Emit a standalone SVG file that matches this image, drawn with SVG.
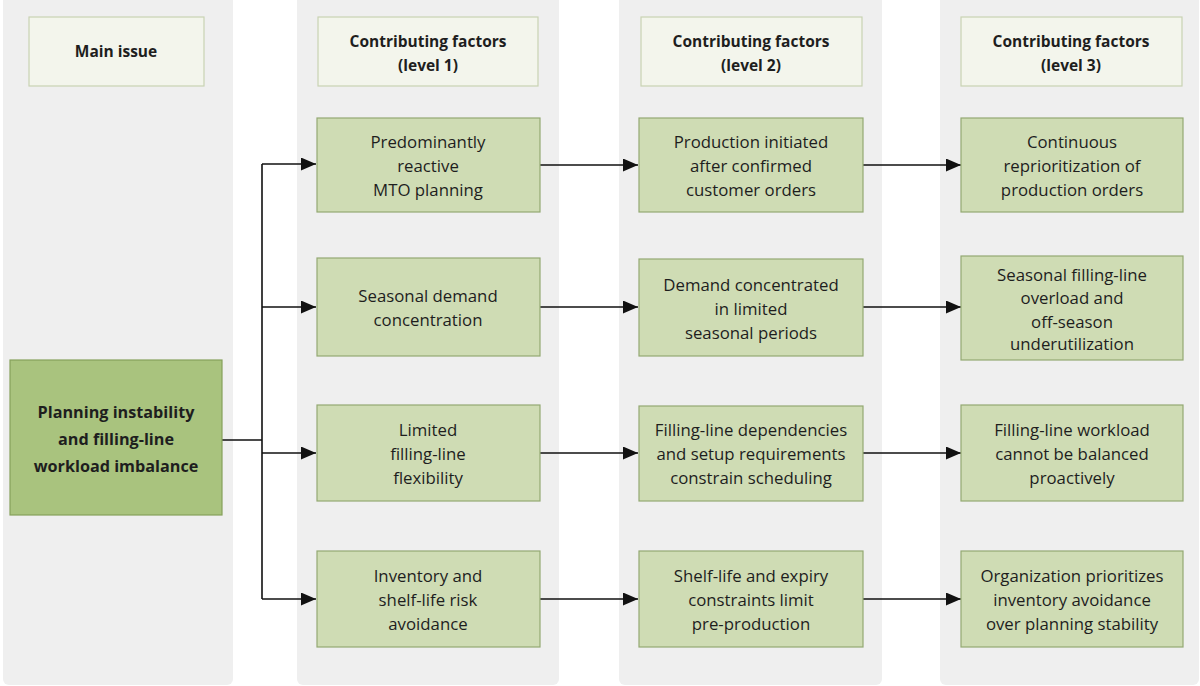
<svg xmlns="http://www.w3.org/2000/svg" width="1200" height="686" viewBox="0 0 1200 686">
  <style>
    .lane { fill: #efefef; }
    .head { fill: #f3f5ec; stroke: #c9d2b3; stroke-width: 1.2; }
    .box { fill: #cfdcb4; stroke: #93a872; stroke-width: 1.2; }
    .main { fill: #a9c37e; stroke: #86a15b; stroke-width: 1.2; }
    text { font-family: "Open Sans", "Noto Sans", "Liberation Sans", sans-serif; fill: #1e1e1e; text-anchor: middle; }
    .ht { font-size: 15.5px; font-weight: bold; }
    .bt { font-size: 16.8px; }
    .mt { font-size: 16.2px; font-weight: bold; }
    .wire { fill: none; stroke: #111; stroke-width: 1.6; }
  </style>
  <defs>
    <marker id="arrow" markerWidth="15" markerHeight="13" refX="15" refY="6.5" orient="auto" markerUnits="userSpaceOnUse">
      <path d="M0,0 L15,6.5 L0,13 Z" fill="#111"/>
    </marker>
  </defs>

  <rect width="1200" height="686" fill="#ffffff"/>

  <!-- column lanes -->
  <g id="lanes">
    <rect class="lane" x="3" y="-6" width="230" height="691" rx="6"/>
    <rect class="lane" x="297" y="-6" width="262" height="691" rx="6"/>
    <rect class="lane" x="619" y="-6" width="263" height="691" rx="6"/>
    <rect class="lane" x="940" y="-6" width="259" height="691" rx="6"/>
  </g>

  <!-- column headers -->
  <g id="head-main">
    <rect class="head" x="29" y="17" width="175" height="69"/>
    <text class="ht" x="116" y="57">Main issue</text>
  </g>
  <g id="head-l1">
    <rect class="head" x="318" y="17" width="220" height="69"/>
    <text class="ht" x="428" y="47">Contributing factors</text>
    <text class="ht" x="428" y="71">(level 1)</text>
  </g>
  <g id="head-l2">
    <rect class="head" x="641" y="17" width="221" height="69"/>
    <text class="ht" x="751" y="47">Contributing factors</text>
    <text class="ht" x="751" y="71">(level 2)</text>
  </g>
  <g id="head-l3">
    <rect class="head" x="961" y="17" width="221" height="69"/>
    <text class="ht" x="1071" y="47">Contributing factors</text>
    <text class="ht" x="1071" y="71">(level 3)</text>
  </g>

  <!-- connectors -->
  <g id="connectors">
    <path class="wire" d="M222,440 H262 M262,164 V599"/>
    <path class="wire" d="M262,164 H316" marker-end="url(#arrow)"/>
    <path class="wire" d="M262,307 H316" marker-end="url(#arrow)"/>
    <path class="wire" d="M262,453 H316" marker-end="url(#arrow)"/>
    <path class="wire" d="M262,599 H316" marker-end="url(#arrow)"/>
    <path class="wire" d="M540,165 H638" marker-end="url(#arrow)"/>
    <path class="wire" d="M540,307 H638" marker-end="url(#arrow)"/>
    <path class="wire" d="M540,453 H638" marker-end="url(#arrow)"/>
    <path class="wire" d="M540,599 H638" marker-end="url(#arrow)"/>
    <path class="wire" d="M863,165 H961" marker-end="url(#arrow)"/>
    <path class="wire" d="M863,307 H961" marker-end="url(#arrow)"/>
    <path class="wire" d="M863,453 H961" marker-end="url(#arrow)"/>
    <path class="wire" d="M863,599 H961" marker-end="url(#arrow)"/>
  </g>

  <!-- main issue -->
  <g id="main-issue">
    <rect class="main" x="10" y="360" width="212" height="155"/>
    <text class="mt" x="116" y="418">Planning instability</text>
    <text class="mt" x="116" y="445">and filling-line</text>
    <text class="mt" x="116" y="472">workload imbalance</text>
  </g>

  <!-- level 1 -->
  <g id="l1-reactive">
    <rect class="box" x="317" y="118" width="223" height="94"/>
    <text class="bt" x="428" y="148">Predominantly</text>
    <text class="bt" x="428" y="172">reactive</text>
    <text class="bt" x="428" y="196">MTO planning</text>
  </g>
  <g id="l1-seasonal">
    <rect class="box" x="317" y="258" width="223" height="98"/>
    <text class="bt" x="428" y="302">Seasonal demand</text>
    <text class="bt" x="428" y="326">concentration</text>
  </g>
  <g id="l1-flex">
    <rect class="box" x="317" y="405" width="223" height="96"/>
    <text class="bt" x="428" y="436">Limited</text>
    <text class="bt" x="428" y="460">filling-line</text>
    <text class="bt" x="428" y="484">flexibility</text>
  </g>
  <g id="l1-inventory">
    <rect class="box" x="317" y="551" width="223" height="96"/>
    <text class="bt" x="428" y="582">Inventory and</text>
    <text class="bt" x="428" y="606">shelf-life risk</text>
    <text class="bt" x="428" y="630">avoidance</text>
  </g>

  <!-- level 2 -->
  <g id="l2-orders">
    <rect class="box" x="639" y="118" width="224" height="94"/>
    <text class="bt" x="751" y="148">Production initiated</text>
    <text class="bt" x="751" y="172">after confirmed</text>
    <text class="bt" x="751" y="196">customer orders</text>
  </g>
  <g id="l2-periods">
    <rect class="box" x="639" y="259" width="224" height="97"/>
    <text class="bt" x="751" y="291">Demand concentrated</text>
    <text class="bt" x="751" y="315">in limited</text>
    <text class="bt" x="751" y="339">seasonal periods</text>
  </g>
  <g id="l2-dependencies">
    <rect class="box" x="639" y="406" width="224" height="95"/>
    <text class="bt" x="751" y="436">Filling-line dependencies</text>
    <text class="bt" x="751" y="460">and setup requirements</text>
    <text class="bt" x="751" y="484">constrain scheduling</text>
  </g>
  <g id="l2-shelflife">
    <rect class="box" x="639" y="551" width="224" height="96"/>
    <text class="bt" x="751" y="582">Shelf-life and expiry</text>
    <text class="bt" x="751" y="606">constraints limit</text>
    <text class="bt" x="751" y="630">pre-production</text>
  </g>

  <!-- level 3 -->
  <g id="l3-reprioritization">
    <rect class="box" x="961" y="118" width="222" height="94"/>
    <text class="bt" x="1072" y="148">Continuous</text>
    <text class="bt" x="1072" y="172">reprioritization of</text>
    <text class="bt" x="1072" y="196">production orders</text>
  </g>
  <g id="l3-overload">
    <rect class="box" x="961" y="256" width="222" height="104"/>
    <text class="bt" x="1072" y="281">Seasonal filling-line</text>
    <text class="bt" x="1072" y="304">overload and</text>
    <text class="bt" x="1072" y="328">off-season</text>
    <text class="bt" x="1072" y="350">underutilization</text>
  </g>
  <g id="l3-workload">
    <rect class="box" x="961" y="405" width="222" height="96"/>
    <text class="bt" x="1072" y="436">Filling-line workload</text>
    <text class="bt" x="1072" y="460">cannot be balanced</text>
    <text class="bt" x="1072" y="484">proactively</text>
  </g>
  <g id="l3-priorities">
    <rect class="box" x="961" y="551" width="222" height="96"/>
    <text class="bt" x="1072" y="582">Organization prioritizes</text>
    <text class="bt" x="1072" y="606">inventory avoidance</text>
    <text class="bt" x="1072" y="630">over planning stability</text>
  </g>
</svg>
